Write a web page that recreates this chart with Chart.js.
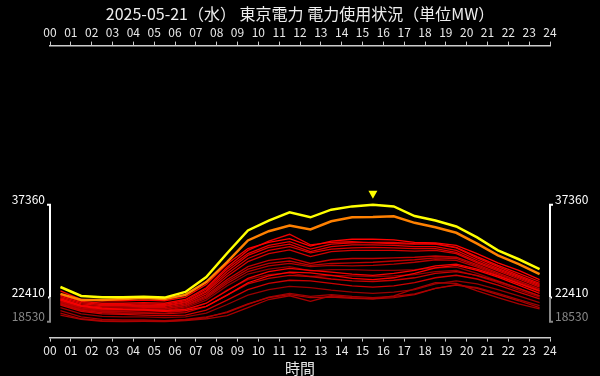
<!DOCTYPE html>
<html>
<head>
<meta charset="utf-8">
<script src="https://cdn.jsdelivr.net/npm/chart.js@4/dist/chart.umd.min.js"></script>
<style>
  html, body { margin: 0; padding: 0; background: #000; }
  #wrap { width: 600px; height: 376px; }
</style>
</head>
<body>
<div id="wrap"><canvas id="powerChart"></canvas></div>
<script>
// hourly averages, plotted at the middle of each hour
const hours = [0.5, 1.5, 2.5, 3.5, 4.5, 5.5, 6.5, 7.5, 8.5, 9.5, 10.5, 11.5,
               12.5, 13.5, 14.5, 15.5, 16.5, 17.5, 18.5, 19.5, 20.5, 21.5, 22.5, 23.5];
const hourLabels = ['00', '01', '02', '03', '04', '05', '06', '07', '08', '09', '10', '11', '12',
                    '13', '14', '15', '16', '17', '18', '19', '20', '21', '22', '23', '24'];
const yTickValues = [37360, 22410, 18530];

// today (yellow) and yesterday (orange)
const d0521 = [24110, 22680, 22480, 22450, 22560, 22410, 23320, 25710, 29540, 33210, 34810, 36130,
               35330, 36560, 37090, 37360, 37090, 35530, 34810, 33850, 32090, 30020, 28580, 26990];
const d0520 = [23000, 22040, 22040, 22200, 22360, 22200, 22840, 24910, 28100, 31610, 33100, 34010,
               33370, 34700, 35330, 35370, 35490, 34440, 33740, 32840, 31090, 29220, 27780, 26190];

// earlier days of the month (red)
const d0501 = [21600, 20600, 20300, 20200, 20300, 20200, 20700, 22000, 24300, 26200, 27000, 27400, 26700, 26900, 26900, 26800, 26800, 26900, 27200, 27300, 26300, 25100, 23900, 22700];
const d0502 = [21300, 20300, 20000, 19900, 20000, 19900, 20300, 21500, 23600, 25300, 26100, 26400, 25800, 26000, 25900, 25800, 25900, 26100, 26600, 26800, 25900, 24800, 23600, 22500];
const d0503 = [20800, 19800, 19400, 19300, 19300, 19200, 19300, 19900, 21300, 22800, 23700, 24200, 24000, 23600, 23300, 23100, 23300, 23700, 24600, 25100, 24600, 23700, 22700, 21600];
const d0504 = [20300, 19300, 18900, 18800, 18800, 18700, 18900, 19300, 20000, 21300, 22500, 23100, 22600, 22900, 22600, 22400, 22600, 23000, 23900, 24500, 24000, 23100, 22100, 21100];
const d0505 = [19900, 19000, 18700, 18600, 18600, 18530, 18700, 19000, 19500, 20800, 22100, 22700, 21800, 22700, 22400, 22200, 22700, 23800, 24800, 24700, 23500, 22400, 21400, 20600];
const d0506 = [19600, 18900, 18600, 18540, 18600, 18600, 18800, 19200, 20100, 21400, 22400, 22900, 22400, 22500, 22300, 22200, 22400, 22900, 23900, 24400, 23900, 22900, 21900, 20800];
const d0507 = [21500, 20500, 20200, 20200, 20300, 20300, 20900, 22300, 24700, 26600, 27500, 27900, 27400, 27600, 27500, 27600, 27800, 28100, 28500, 28400, 27300, 26000, 24700, 23400];
const d0508 = [21700, 20700, 20400, 20400, 20500, 20500, 21100, 22500, 25000, 27000, 27900, 28300, 27600, 27900, 28000, 28100, 28300, 28500, 28800, 28700, 27500, 26200, 24900, 23600];
const d0509 = [21800, 20800, 20500, 20500, 20600, 20600, 21200, 22700, 25300, 27400, 28400, 28800, 27900, 28500, 28700, 28700, 28800, 28900, 29100, 28900, 27700, 26400, 25100, 23800];
const d0510 = [21400, 20400, 20000, 19900, 19900, 19800, 20000, 21000, 22800, 24600, 25500, 26000, 25800, 25400, 25100, 25000, 25200, 25600, 26300, 26600, 26000, 25000, 23900, 22700];
const d0511 = [21200, 20200, 19800, 19700, 19600, 19500, 19600, 20400, 22000, 23700, 24700, 25200, 25100, 24700, 24300, 24100, 24300, 24800, 25600, 26000, 25400, 24400, 23300, 22200];
const d0512 = [22000, 21000, 20700, 20700, 20800, 20800, 21400, 23000, 25800, 28200, 29500, 30100, 29000, 29800, 30000, 30000, 30000, 29900, 30000, 29500, 28000, 26700, 25400, 24100];
const d0513 = [22200, 21200, 20900, 20900, 21000, 21000, 21600, 23300, 26200, 28700, 30000, 30600, 29600, 30200, 30400, 30500, 30400, 30300, 30300, 29700, 28200, 26900, 25600, 24300];
const d0514 = [22400, 21400, 21100, 21100, 21200, 21100, 21700, 23500, 26600, 29200, 30500, 31000, 29800, 30600, 30900, 30900, 30800, 30600, 30600, 30000, 28500, 27100, 25800, 24500];
const d0515 = [22600, 21600, 21300, 21300, 21400, 21300, 21900, 23800, 27000, 29500, 30800, 31400, 30200, 31000, 31200, 31300, 31300, 31100, 31000, 30400, 28800, 27400, 26000, 24700];
const d0516 = [22800, 21800, 21500, 21500, 21600, 21500, 22100, 24000, 27300, 30000, 31500, 32600, 30900, 31300, 31400, 31200, 31100, 31000, 31100, 30500, 29000, 27600, 26300, 25000];
const d0517 = [22000, 21000, 20600, 20500, 20500, 20300, 20500, 21500, 23500, 25500, 26600, 27100, 26800, 26500, 26200, 26000, 26300, 26800, 27500, 27800, 27000, 25900, 24700, 23500];
const d0518 = [22200, 21100, 20700, 20500, 20400, 20200, 20300, 21000, 22800, 24800, 25900, 26500, 26400, 26000, 25500, 25300, 25600, 26300, 27200, 27600, 26800, 25700, 24400, 23100];
const d0519 = [23500, 22100, 21900, 21900, 22000, 21900, 22500, 24500, 27800, 30300, 31300, 31900, 30700, 31500, 31800, 31800, 31700, 31300, 31200, 30800, 29500, 28000, 26800, 25300];

const pastDays = [d0501, d0502, d0503, d0504, d0505, d0506, d0507, d0508, d0509, d0510,
                  d0511, d0512, d0513, d0514, d0515, d0516, d0517, d0518, d0519];

const FONT = '"Noto Sans CJK JP", "Noto Sans", sans-serif';

function toPoints(arr) {
    return arr.map((v, i) => ({ x: hours[i], y: v }));
}

// first dataset is drawn on top
const datasets = [
    { data: toPoints(d0521), borderColor: '#ffff00', borderWidth: 2.5 },
    { data: toPoints(d0520), borderColor: '#ff8000', borderWidth: 2.5 }
];
for (let i = pastDays.length - 1; i >= 0; i--) {
    const r = Math.round(140 + 115 * i / (pastDays.length - 1));
    datasets.push({ data: toPoints(pastDays[i]), borderColor: 'rgb(' + r + ',0,0)', borderWidth: 1.3 });
}
datasets.forEach(d => { d.pointRadius = 0; d.tension = 0; d.fill = false; });

const allValues = [d0521, d0520].concat(pastDays).flat();
const dataMax = Math.max(...allValues);
const dataMin = Math.min(...allValues);
const span = dataMax - dataMin;

// y brackets at both sides plus the peak marker
const bracketPlugin = {
    id: 'bracketPlugin',
    afterDatasetsDraw(chart) {
        const { ctx, chartArea, scales } = chart;
        const y = scales.y, x = scales.x;
        const yTop = y.getPixelForValue(yTickValues[0]);
        const yMid = y.getPixelForValue(yTickValues[1]);
        const yBot = y.getPixelForValue(yTickValues[2]);
        ctx.save();
        ctx.lineWidth = 2;
        ctx.font = '12px ' + FONT;
        ctx.textBaseline = 'alphabetic';
        [[chartArea.left, -1], [chartArea.right, 1]].forEach(([px, dir]) => {
            ctx.strokeStyle = '#ffffff';
            ctx.beginPath();
            ctx.moveTo(px + dir * 3, yTop); ctx.lineTo(px, yTop); ctx.lineTo(px, yMid);
            ctx.moveTo(px + dir * 2, yMid); ctx.lineTo(px, yMid);
            ctx.stroke();
            ctx.strokeStyle = '#888888';
            ctx.beginPath();
            ctx.moveTo(px, yMid); ctx.lineTo(px, yBot); ctx.lineTo(px + dir * 3, yBot);
            ctx.stroke();
            ctx.textAlign = dir < 0 ? 'right' : 'left';
            const tx = px + dir * 5;
            ctx.fillStyle = '#ffffff';
            ctx.fillText(String(yTickValues[0]), tx, yTop - 1);
            ctx.fillText(String(yTickValues[1]), tx, yMid - 1);
            ctx.fillStyle = '#888888';
            ctx.fillText(String(yTickValues[2]), tx, yBot - 1);
        });
        // peak of today
        const peak = Math.max(...d0521);
        const pi = d0521.indexOf(peak);
        const mx = x.getPixelForValue(hours[pi]);
        const my = y.getPixelForValue(peak) - 6;
        ctx.fillStyle = '#ffff00';
        ctx.beginPath();
        ctx.moveTo(mx - 4.5, my - 8);
        ctx.lineTo(mx + 4.5, my - 8);
        ctx.lineTo(mx, my);
        ctx.closePath();
        ctx.fill();
        ctx.restore();
    }
};

const tickStyle = {
    stepSize: 1,
    autoSkip: false,
    maxRotation: 0,
    color: '#e8e8e8',
    padding: 2,
    font: { family: FONT, size: 12 },
    callback: v => hourLabels[v]
};

document.addEventListener('DOMContentLoaded', function () {
    const ctx = document.getElementById('powerChart').getContext('2d');
    new Chart(ctx, {
        type: 'line',
        data: { datasets: datasets },
        options: {
            responsive: true,
            maintainAspectRatio: false,
            animation: false,
            layout: { padding: { left: 50, right: 50, top: 0, bottom: 0 } },
            scales: {
                x: {
                    type: 'linear',
                    position: 'bottom',
                    min: 0, max: 24,
                    ticks: tickStyle,
                    grid: { drawOnChartArea: false, tickLength: 4, color: '#cccccc' },
                    border: { color: '#cccccc', width: 1.5 },
                    title: {
                        display: true, text: '時間', color: '#e8e8e8',
                        font: { family: FONT, size: 15, lineHeight: 1.0 }, padding: { top: 1, bottom: 0 }
                    }
                },
                xTop: {
                    type: 'linear',
                    axis: 'x',
                    position: 'top',
                    min: 0, max: 24,
                    ticks: tickStyle,
                    grid: { drawOnChartArea: false, tickLength: 4, color: '#cccccc' },
                    border: { color: '#cccccc', width: 1.5 }
                },
                y: {
                    type: 'linear',
                    display: false,
                    min: dataMin - span * 0.136,
                    max: dataMax + span * 1.36
                }
            },
            plugins: {
                legend: { display: false },
                tooltip: { enabled: false },
                title: {
                    display: true,
                    text: '2025-05-21（水） 東京電力 電力使用状況（単位MW）',
                    color: '#eeeeee',
                    font: { family: FONT, size: 16, weight: 'normal' },
                    padding: { top: 4, bottom: 0 }
                }
            }
        },
        plugins: [bracketPlugin]
    });
});
</script>
</body>
</html>
